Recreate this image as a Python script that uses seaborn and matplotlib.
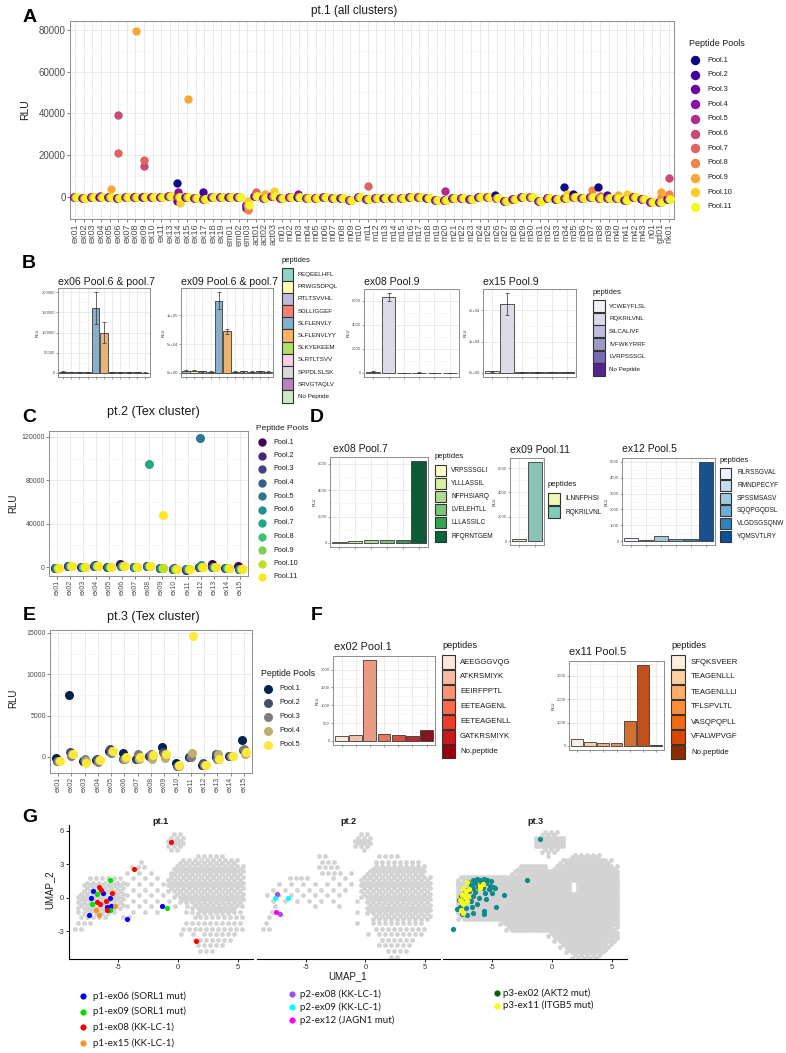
import numpy as np
import pandas as pd
import matplotlib
matplotlib.use("Agg")
import matplotlib.pyplot as plt
import seaborn as sns
from matplotlib.patches import Rectangle
from matplotlib.ticker import MultipleLocator, FuncFormatter

# ------------------------------------------------------------
# data -- panel A : pt.1 (all clusters)
# ------------------------------------------------------------
a_samples = (["ex%02d" % i for i in list(range(1, 12)) + list(range(13, 20))]
             + ["em01", "em02", "em03", "act01", "act02", "act03"]
             + ["m%02d" % i for i in range(1, 44)] + ["n01", "gd01", "nk01"])
a_base = [-300, -800, 0, -300, 0, -700, -300, -300, 0, -300, 0, 300, 0, -300, -800, -1200, -300, -300,
          0, 0, -4000,
          500, -500, 500,
          -500, -300, 0, -800, -500, -300, -500, -500, -1500, -300,
          -1000, -500, -700, -700, -700, -300, -300, -800, -1500, -1500,
          -500, -800, -1000, -300, -300, -500, -1800, -1000, -300, 0,
          -2000, -500, -1000, -500, -300, -500, -300, -500, -800, -800,
          -1500, -300, -1300,
          -2500, -2500, -1300]
a_peaks = [("ex05", 9, 3500), ("ex06", 6, 39000), ("ex06", 7, 21000), ("ex08", 9, 79500),
           ("ex09", 7, 17500), ("ex09", 6, 14500), ("ex14", 1, 6500), ("ex14", 4, 2500),
           ("ex14", 3, -2000), ("ex14", 10, -3000), ("ex15", 9, 47000), ("ex17", 2, 2500),
           ("ex04", 3, 500), ("em03", 2, -5500), ("em03", 7, -6000), ("em03", 8, -6500),
           ("em03", 10, -2000), ("act01", 7, 2500), ("act02", 9, 1500), ("act03", 8, 500),
           ("act03", 10, 3000), ("m03", 4, 1500), ("m11", 7, 5000), ("m20", 5, 2800),
           ("m26", 1, 1000), ("m34", 1, 4500), ("m34", 10, 1200), ("m35", 1, 1500),
           ("m37", 8, 3200), ("m38", 1, 4800), ("m38", 7, 500), ("m39", 2, 1000),
           ("m40", 9, 800), ("m41", 10, 1500), ("gd01", 9, 2200), ("gd01", 8, -200),
           ("nk01", 6, 9000), ("nk01", 8, 1500)]

# panel C : pt.2 (Tex cluster)
c_samples = ["ex%02d" % i for i in range(1, 16)]
c_base = [-500, 500, -300, 800, 0, 500, 200, 800, -1000, -1500, -2000, 0, 300, -800, -1500]
c_peaks = [("ex08", 7, 95000), ("ex09", 11, 48000), ("ex12", 5, 119500), ("ex06", 1, 2500),
           ("ex13", 1, 3000), ("ex15", 1, 800), ("ex04", 2, 2000), ("ex12", 6, 2000),
           ("ex11", 1, -2500), ("ex10", 3, -1000)]

# panel E : pt.3 (Tex cluster)
e_samples = ["ex%02d" % i for i in range(1, 16)]
e_base = [-500, 300, -500, -400, 700, -200, -300, 100, 300, -1100, 0, -1000, 0, 50, 600]
e_peaks = [("ex01", 1, -100), ("ex02", 1, 7500), ("ex02", 2, 600), ("ex02", 3, 100),
           ("ex03", 3, -300), ("ex03", 5, -700), ("ex04", 2, -200), ("ex04", 3, -600),
           ("ex05", 2, 1000), ("ex05", 3, 500), ("ex06", 1, 500), ("ex06", 5, 0),
           ("ex07", 3, 300), ("ex07", 5, 0), ("ex08", 3, 300), ("ex08", 4, -300),
           ("ex08", 5, 200), ("ex09", 1, 1200), ("ex09", 2, 600), ("ex09", 4, -100),
           ("ex10", 1, -800), ("ex10", 5, -1000), ("ex11", 5, 14600), ("ex11", 4, 500),
           ("ex12", 2, -800), ("ex13", 2, 300), ("ex13", 4, 300), ("ex13", 3, -300),
           ("ex13", 5, -200), ("ex15", 1, 2000), ("ex15", 2, 800), ("ex15", 3, 900),
           ("ex15", 4, 400)]

# panel B : bar charts
b1_peps = ["PEQEELHFL", "PRWGSDPQL", "RTLTSVVHL", "SDLLIGGEF", "SLFLENVLY", "SLFLENVLYY",
           "SLKYEKEEM", "SLRTLTSVV", "SPPDLSLSK", "SRVGTAQLV", "No Peptide"]
b1_cols = ["#8dd3c7", "#ffffb3", "#bebada", "#fb8072", "#80b1d3", "#fdb462",
           "#b3de69", "#fccde5", "#d9d9d9", "#bc80bd", "#ccebc5"]
b_ex06 = [3000, 2000, 2500, 1500, 160000, 100000, 1500, 1500, 1500, 2000, 1000]
b_ex06_err = [800, 600, 700, 500, 40000, 25000, 500, 500, 500, 600, 400]
b_ex09 = [4000, 3500, 3000, 2500, 125000, 72000, 2000, 3000, 2500, 3000, 2500]
b_ex09_err = [1000, 800, 800, 700, 15000, 4500, 600, 800, 700, 800, 700]
b2_peps = ["YCWEYFLSL", "RQKRILVNL", "SILCALIVF", "IVFWKYRRF", "LVRPSSSGL", "No Peptide"]
b2_cols = ["#f2f0f7", "#dadaeb", "#bcbddc", "#9e9ac8", "#756bb1", "#54278f"]
b_ex08 = [120, 6300, 30, 40, 30, 30]
b_ex08_err = [40, 350, 10, 10, 10, 10]
b_ex15 = [500, 22000, 200, 200, 250, 300]
b_ex15_err = [150, 3500, 60, 60, 80, 80]

# panel D
d1_peps = ["VRPSSSGLI", "YLLLASSIL", "NFPHSIARQ", "LVELEHTLL", "LLLASSILC", "RFQRNTGEM"]
d1_cols = ["#ffffcc", "#d9f0a3", "#addd8e", "#78c679", "#31a354", "#006837"]
d1_vals = [80, 180, 220, 220, 230, 6200]
d2_peps = ["ILNNFPHSI", "RQKRILVNL"]
d2_cols = ["#edf8b1", "#7fcdbb"]
d2_vals = [150, 6500]
d3_peps = ["RLRSSGVAL", "RMNDPECYF", "SPSSMSASV", "SQQPGQDSL", "VLGDSGSQNW", "YQMSVTLRY"]
d3_cols = ["#eff3ff", "#c6dbef", "#9ecae1", "#6baed6", "#3182bd", "#08519c"]
d3_vals = [180, 70, 300, 130, 130, 5000]

# panel F
f1_peps = ["AEEGGGVQG", "ATKRSMIYK", "EEIRFPPTL", "EETEAGENL", "EETEAGENLL", "GATKRSMIYK", "No.peptide"]
f1_cols = ["#fee5d9", "#fcbba1", "#fc9272", "#fb6a4a", "#ef3b2c", "#cb181d", "#99000d"]
f1_vals = [130, 170, 2270, 190, 170, 130, 320]
f2_peps = ["SFQKSVEER", "TEAGENLLL", "TEAGENLLLI", "TFLSPVLTL", "VASQPQPLL", "VFALWPVGF", "No.peptide"]
f2_cols = ["#feedde", "#fdd0a2", "#fdae6b", "#fd8d3c", "#f16913", "#d94801", "#8c2d04"]
f2_vals = [280, 180, 125, 140, 1075, 3450, 55]

# panel G : UMAP clouds read as row masks (0.5-unit cells, rows from y=6 downwards)
# '#' dense, '%' medium, '+' sparse, '-' very sparse
pt1_cloud = [
    [(17, 18, "+")], [(16, 18, "%")], [(16, 18, "%")], [(16, 17, "+")],
    [(21, 25, "+")],
    [(11, 11, "+"), (18, 27, "%")],
    [(10, 12, "+"), (17, 28, "%")],
    [(9, 13, "-"), (16, 16, "+"), (17, 28, "%")],
    [(3, 8, "+"), (9, 14, "-"), (16, 28, "%")],
    [(2, 8, "%"), (9, 15, "-"), (16, 28, "%")],
    [(2, 8, "%"), (9, 15, "-"), (16, 28, "%")],
    [(1, 8, "%"), (9, 15, "-"), (17, 28, "%")],
    [(1, 8, "%"), (9, 16, "-"), (18, 28, "%")],
    [(1, 8, "%"), (9, 19, "-"), (20, 27, "%"), (28, 28, "+")],
    [(1, 1, "+"), (2, 6, "%"), (7, 7, "+"), (10, 14, "-"), (19, 20, "+"), (21, 26, "%"), (27, 28, "+")],
    [(1, 5, "+"), (8, 9, "+"), (20, 28, "+")],
    [(1, 3, "+"), (19, 28, "+")],
    [(0, 1, "+"), (18, 28, "+")],
    [(18, 21, "-"), (22, 27, "+")],
    [(20, 26, "+")], [(21, 25, "+")], [(21, 23, "+")], [],
]
pt2_cloud = [
    [(17, 18, "+")], [(16, 18, "%")], [(16, 18, "%")], [(17, 17, "+")],
    [(10, 11, "+"), (20, 23, "+")],
    [(10, 12, "+"), (19, 26, "+")],
    [(10, 13, "+"), (19, 27, "%")],
    [(10, 13, "+"), (14, 15, "-"), (18, 27, "%")],
    [(5, 8, "+"), (12, 14, "-"), (17, 28, "%")],
    [(3, 15, "-"), (17, 28, "%")],
    [(1, 15, "-"), (17, 28, "%")],
    [(1, 14, "-"), (17, 28, "%")],
    [(1, 12, "-"), (15, 16, "-"), (18, 28, "%")],
    [(2, 2, "+"), (8, 9, "-"), (13, 14, "-"), (18, 28, "%")],
    [(2, 2, "+"), (15, 16, "-"), (18, 28, "%")],
    [(1, 1, "+"), (19, 28, "%")],
    [(1, 1, "+"), (16, 17, "-"), (19, 27, "+")],
    [(0, 1, "+"), (19, 27, "+")],
    [(17, 18, "-"), (20, 27, "+")],
    [(20, 25, "+")], [(20, 25, "+")], [(21, 24, "+")], [(22, 23, "+")],
]
pt3_cloud = [
    [(16, 18, "%")], [(15, 19, "#")], [(15, 19, "#")], [(16, 18, "%")],
    [(17, 17, "+"), (21, 25, "%")],
    [(19, 19, "%"), (20, 26, "#"), (27, 27, "%")],
    [(12, 12, "%"), (13, 16, "#"), (18, 18, "%"), (19, 27, "#"), (28, 28, "%")],
    [(11, 11, "%"), (12, 16, "#"), (17, 28, "#")],
    [(2, 2, "%"), (3, 8, "#"), (9, 28, "#")],
    [(2, 20, "#"), (22, 28, "#")],
    [(2, 20, "#"), (22, 28, "#")],
    [(2, 28, "#")], [(2, 28, "#")], [(2, 28, "#")], [(2, 28, "#")],
    [(2, 2, "%"), (3, 28, "#")],
    [(9, 9, "%"), (10, 28, "#")],
    [(10, 10, "%"), (11, 27, "#"), (28, 28, "%")],
    [(17, 17, "%"), (18, 28, "#")],
    [(18, 18, "%"), (19, 27, "#"), (28, 28, "%")],
    [(19, 19, "%"), (20, 26, "#"), (27, 27, "%")],
    [(20, 20, "%"), (21, 25, "#"), (26, 26, "%")],
    [(21, 25, "%")],
]

p1_ex06 = [(-7.1, 0.65), (-7.3, 0.0), (-7.4, -1.5), (-6.3, 0.4), (-5.7, 0.0), (-5.9, -0.8),
           (-5.6, -0.7), (-4.3, -1.85), (-1.35, -0.75)]
p1_ex09 = [(-5.7, 1.6), (-6.8, 0.35), (-7.2, -0.55), (-5.7, -1.1), (-0.9, -0.9)]
p1_ex08 = [(-6.6, 0.95), (-6.4, 0.75), (-5.5, 0.4), (-6.75, -0.4), (-6.55, -0.55), (-6.0, -0.25),
           (-5.95, -1.1), (-3.65, 2.55), (-0.6, 5.0), (1.5, -3.9)]
p1_ex15 = [(-6.85, -1.1), (-6.6, -1.55), (-5.3, -0.7)]
p2_ex08 = [(-7.4, 0.32), (-7.2, -1.45)]
p2_ex09 = [(-7.6, 0.0), (-6.5, 0.03)]
p2_ex12 = [(-7.5, -1.25)]
p3_ex02 = [(-7.0, 1.4), (-6.6, 1.6), (-6.3, 1.65), (-6.0, 1.6), (-5.7, 1.65), (-5.4, 1.6), (-5.1, 1.5),
           (-6.8, 1.2), (-6.4, 1.3), (-5.9, 1.25), (-5.5, 1.3), (-5.2, 1.1), (-4.9, 1.0), (-6.6, 0.9),
           (-6.2, 0.95), (-5.8, 0.85), (-5.3, 0.8), (-4.8, 0.9), (-7.3, 0.7), (-6.9, 0.6), (-6.4, 0.5),
           (-5.6, 0.45), (-5.0, 0.4), (-4.0, 0.25), (-7.6, 0.2), (-7.1, 0.1), (-6.6, 0.15), (-6.1, 0.0),
           (-5.5, -0.1), (-7.8, -0.2), (-7.4, -0.4), (-6.8, -0.3), (-6.3, -0.5), (-4.7, -0.8),
           (-7.7, -0.8), (-7.2, -0.9), (-6.7, -0.8), (-5.7, -1.2), (-5.7, -1.4), (-7.5, -1.4),
           (-7.1, -1.5), (-6.6, -1.35), (-2.1, 1.6), (-1.0, 5.3), (-8.3, -2.8), (-7.9, -1.0)]
p3_ex11 = [(-7.1, 1.4), (-7.4, 0.9), (-7.2, 0.65), (-7.5, 0.3), (-7.2, 0.05), (-7.7, -0.2),
           (-7.5, -0.4), (-7.4, -0.5), (-7.6, -1.1), (-7.4, -1.35), (-6.0, 1.1), (-6.0, 0.9),
           (-5.8, 1.25), (-6.9, 0.8), (-7.0, 0.2), (-7.1, -0.25)]

g_legend1 = ["p1-ex06 (SORL1 mut)", "p1-ex09 (SORL1 mut)", "p1-ex08 (KK-LC-1)", "p1-ex15 (KK-LC-1)"]
g_colors1 = ["#0000ff", "#00e000", "#ff0000", "#f7941d"]
g_legend2 = ["p2-ex08 (KK-LC-1)", "p2-ex09 (KK-LC-1)", "p2-ex12 (JAGN1 mut)"]
g_colors2 = ["#9b4ff0", "#00ffff", "#ff00ff"]
g_legend3 = ["p3-ex02 (AKT2 mut)", "p3-ex11 (ITGB5 mut)"]
g_colors3 = ["#006400", "#ffff00"]

# ------------------------------------------------------------
# figure setup
# ------------------------------------------------------------
W, H = 786, 1053
sns.set_theme(style="white")
plt.rcParams["font.family"] = ["Liberation Sans", "DejaVu Sans"]
plt.rcParams["axes.unicode_minus"] = False

fig = plt.figure(figsize=(W / 100, H / 100), dpi=100)
fig.patch.set_facecolor("white")

ov = fig.add_axes([0, 0, 1, 1], zorder=20)
ov.set_xlim(0, W)
ov.set_ylim(H, 0)
ov.axis("off")

TXT = "#1a1a1a"
GREY = "#4d4d4d"


def box(l, t, r, b):
    return fig.add_axes([l / W, 1 - b / H, (r - l) / W, (b - t) / H])


def gg_style(ax, fs, minor_y=None):
    ax.set_facecolor("white")
    for s in ax.spines.values():
        s.set_visible(True)
        s.set_color("#8c8c8c")
        s.set_linewidth(0.7)
    ax.grid(True, which="major", color="#e3e3e3", linewidth=0.5)
    if minor_y:
        ax.yaxis.set_minor_locator(MultipleLocator(minor_y))
        ax.grid(True, which="minor", axis="y", color="#f1f1f1", linewidth=0.4)
    ax.set_axisbelow(True)
    ax.tick_params(axis="both", which="major", bottom=True, left=True, length=2, width=0.5,
                   color=GREY, labelsize=fs, labelcolor=GREY, pad=1)
    ax.tick_params(which="minor", length=0)
    ax.set_xlabel("")
    ax.set_ylabel("")


def pool_strip(ax, samples, base, peaks, n_pools, cmap_name, size, squeeze):
    fixed = {(s, p): v for s, p, v in peaks}
    rows = []
    for s, b in zip(samples, base):
        for p in range(1, n_pools + 1):
            rows.append((s, "Pool.%d" % p, fixed.get((s, p), b)))
    df = pd.DataFrame(rows, columns=["sample", "pool", "RLU"])
    cmap = plt.get_cmap(cmap_name)
    pal = [cmap(v) for v in np.linspace(0, 1, n_pools)]
    sns.stripplot(data=df, x="sample", y="RLU", hue="pool", order=samples,
                  hue_order=["Pool.%d" % p for p in range(1, n_pools + 1)],
                  palette=pal, dodge=True, jitter=False, size=size, linewidth=0,
                  legend=False, ax=ax)
    # narrow the dodge so the pools of one sample overlap like the original
    for coll in ax.collections:
        off = np.asarray(coll.get_offsets()).copy()
        if len(off):
            cx = np.round(off[:, 0])
            off[:, 0] = cx + (off[:, 0] - cx) * squeeze
            coll.set_offsets(off)
    ax.set_xlim(-0.6, len(samples) - 0.4)
    return pal


def point_legend(xt, yt, xm, xtext, y0, dy, cols, s, fs, tfs):
    ov.text(xt, yt, "Peptide Pools", fontsize=tfs, color=TXT, va="center")
    for k, c in enumerate(cols):
        ov.scatter([xm], [y0 + k * dy], s=s, color=c, linewidths=0)
        ov.text(xtext, y0 + k * dy, "Pool.%d" % (k + 1), fontsize=fs, color=TXT, va="center")


def square_legend(x, yt, labels, cols, y0, dy, w, h, fs, tfs, xtext):
    ov.text(x, yt, "peptides", fontsize=tfs, color=TXT, va="center")
    for k, (lab, c) in enumerate(zip(labels, cols)):
        yc = y0 + k * dy
        ov.add_patch(Rectangle((x, yc - h / 2), w, h, facecolor=c, edgecolor="#333333", lw=0.8))
        ov.text(xtext, yc, lab, fontsize=fs, color=TXT, va="center")


def bar_panel(ax, peps, vals, cols, errs=None, ticks=None, sci=False):
    df = pd.DataFrame({"peptide": peps, "RLU": vals})
    sns.barplot(data=df, x="peptide", y="RLU", hue="peptide", order=peps, hue_order=peps,
                palette=cols, dodge=False, width=0.9, edgecolor="#3a3a3a", linewidth=0.6,
                errorbar=None, legend=False, ax=ax)
    top = max(vals)
    if errs is not None:
        ax.errorbar(range(len(peps)), vals, yerr=errs, fmt="none", ecolor="#333333",
                    elinewidth=0.5, capsize=1.5, capthick=0.5)
        top = max(v + e for v, e in zip(vals, errs))
    gg_style(ax, 3, minor_y=(ticks[1] - ticks[0]) / 2)
    ax.set_ylim(-0.05 * top, 1.05 * top)
    ax.set_xlim(-0.6, len(peps) - 0.4)
    ax.set_yticks(ticks)
    if sci:
        ax.yaxis.set_major_formatter(FuncFormatter(lambda v, _: "%.0e" % v))
    else:
        ax.yaxis.set_major_formatter(FuncFormatter(lambda v, _: "%d" % v))
    ax.set_xticks(range(len(peps)))
    ax.set_xticklabels([""] * len(peps))
    ax.tick_params(length=1.2, width=0.4)
    ax.set_ylabel("RLU", fontsize=3, color=TXT, labelpad=1)


def cloud(spans):
    xs, ys = [], []
    for j, row in enumerate(spans):
        yc = 6.0 - 0.5 * j - 0.25
        for c0, c1, d in row:
            for i in range(c0, c1 + 1):
                xc = -9.0 + 0.5 * i + 0.25
                if d == "#":
                    offs = [(-0.125, -0.125), (0.125, -0.125), (-0.125, 0.125), (0.125, 0.125), (0.0, 0.0)]
                elif d == "%":
                    offs = [(-0.125, -0.125), (0.125, 0.125)]
                elif d == "+":
                    offs = [(0.12 if j % 2 else -0.12, 0.0)]
                else:
                    offs = [(0.0, 0.0)] if (i + j) % 2 == 0 else []
                for dx, dy in offs:
                    xs.append(xc + dx)
                    ys.append(yc + dy)
    return np.array(xs), np.array(ys)


def umap_panel(ax, spans, groups, first):
    gx, gy = cloud(spans)
    sns.scatterplot(x=gx, y=gy, color="#d3d3d3", s=12, linewidth=0, ax=ax)
    for pts, col in groups:
        arr = np.array(pts)
        sns.scatterplot(x=arr[:, 0], y=arr[:, 1], color=col, s=14, linewidth=0, ax=ax)
    ax.set_facecolor("white")
    ax.set_xlim(-9.1, 6.25)
    ax.set_ylim(-5.47, 6.53)
    for side in ["top", "right"]:
        ax.spines[side].set_visible(False)
    ax.spines["left"].set_visible(first)
    for side in ["left", "bottom"]:
        ax.spines[side].set_color("black")
        ax.spines[side].set_linewidth(0.8)
    ax.set_xticks([-5, 0, 5])
    if first:
        ax.set_yticks([-3, 0, 3, 6])
    else:
        ax.set_yticks([])
    ax.tick_params(bottom=True, left=first, length=2.5, width=0.6, color="black",
                   labelsize=5.5, labelcolor="#333333", pad=1)
    ax.grid(False)
    ax.set_xlabel("")
    ax.set_ylabel("")


# ------------------------------------------------------------
# A
# ------------------------------------------------------------
axA = box(70, 21, 674, 219)
pal_a = pool_strip(axA, a_samples, a_base, a_peaks, 11, "plasma", 6.0, 0.5)
gg_style(axA, 6.5, minor_y=10000)
axA.set_ylim(-10650, 84200)
axA.set_yticks([0, 20000, 40000, 60000, 80000])
axA.tick_params(axis="y", labelsize=7)
axA.tick_params(axis="x", labelrotation=90)
ov.text(354, 11, "pt.1 (all clusters)", fontsize=8.5, ha="center", va="center", color=TXT)
ov.text(25, 110, "RLU", fontsize=7.5, rotation=90, ha="center", va="center", color=TXT)
point_legend(689, 43, 695, 707, 60, 14.7, pal_a, 46, 5.3, 6.5)

# ------------------------------------------------------------
# B
# ------------------------------------------------------------
axB1 = box(58, 288, 150, 377)
bar_panel(axB1, b1_peps, b_ex06, b1_cols, b_ex06_err, [0, 50000, 100000, 150000, 200000])
axB2 = box(181, 288, 273, 377)
bar_panel(axB2, b1_peps, b_ex09, b1_cols, b_ex09_err, [0, 50000, 100000], sci=True)
axB3 = box(364, 289, 459, 377)
bar_panel(axB3, b2_peps, b_ex08, b2_cols, b_ex08_err, [0, 2000, 4000, 6000])
axB4 = box(483, 289, 576, 377)
bar_panel(axB4, b2_peps, b_ex15, b2_cols, b_ex15_err, [0, 10000, 20000], sci=True)
for x, t in [(58, "ex06 Pool.6 & pool.7"), (181, "ex09 Pool.6 & pool.7"),
             (364, "ex08 Pool.9"), (483, "ex15 Pool.9")]:
    ov.text(x, 282, t, fontsize=7.6, va="center", color=TXT)
square_legend(282, 261, b1_peps, b1_cols, 274.5, 12.2, 11, 12.2, 4.5, 5.4, 298)
square_legend(593, 293, b2_peps, b2_cols, 306, 12.7, 12, 12.2, 4.5, 5.4, 609)

# ------------------------------------------------------------
# C
# ------------------------------------------------------------
axC = box(49, 431, 248, 576)
pal_c = pool_strip(axC, c_samples, c_base, c_peaks, 11, "viridis", 6.5, 0.4)
gg_style(axC, 5, minor_y=20000)
axC.set_ylim(-8300, 125500)
axC.set_yticks([0, 40000, 80000, 120000])
axC.tick_params(axis="x", labelrotation=90)
ov.text(153, 412, "pt.2 (Tex cluster)", fontsize=9, ha="center", va="center", color=TXT)
ov.text(13, 503, "RLU", fontsize=7, rotation=90, ha="center", va="center", color=TXT)
point_legend(256, 428, 262, 273, 442, 13.5, pal_c, 36, 5.2, 6)

# ------------------------------------------------------------
# D
# ------------------------------------------------------------
axD1 = box(330, 457, 428, 547)
bar_panel(axD1, d1_peps, d1_vals, d1_cols, ticks=[0, 2000, 4000, 6000])
axD2 = box(510, 458, 544, 545)
bar_panel(axD2, d2_peps, d2_vals, d2_cols, ticks=[0, 2000, 4000, 6000])
axD3 = box(622, 458, 715, 545)
bar_panel(axD3, d3_peps, d3_vals, d3_cols, ticks=[0, 1000, 2000, 3000, 4000, 5000])
for x, y, t in [(333, 449, "ex08 Pool.7"), (510, 450, "ex09 Pool.11"), (622, 449, "ex12 Pool.5")]:
    ov.text(x, y, t, fontsize=7.5, va="center", color=TXT)
square_legend(435, 457, d1_peps, d1_cols, 470, 13.2, 11, 11, 4.7, 5.5, 451)
square_legend(548, 485, d2_peps, d2_cols, 499, 13.2, 12, 12, 4.7, 5.5, 565)
square_legend(720, 460, d3_peps, d3_cols, 473, 12.6, 11, 11, 4.7, 5.5, 737)

# ------------------------------------------------------------
# E
# ------------------------------------------------------------
axE = box(50, 630, 252, 773)
pal_e = pool_strip(axE, e_samples, e_base, e_peaks, 5, "cividis", 6.5, 0.45)
gg_style(axE, 5, minor_y=2500)
axE.set_ylim(-1950, 15360)
axE.set_yticks([0, 5000, 10000, 15000])
axE.tick_params(axis="x", labelrotation=90)
ov.text(153, 617, "pt.3 (Tex cluster)", fontsize=9, ha="center", va="center", color=TXT)
ov.text(13, 698, "RLU", fontsize=7, rotation=90, ha="center", va="center", color=TXT)
point_legend(261, 674, 268, 279, 689, 14, pal_e, 42, 5.3, 6.3)

# ------------------------------------------------------------
# F
# ------------------------------------------------------------
axF1 = box(333, 656, 435, 745)
bar_panel(axF1, f1_peps, f1_vals, f1_cols, ticks=[0, 500, 1000, 1500, 2000])
axF2 = box(569, 661, 664, 750)
bar_panel(axF2, f2_peps, f2_vals, f2_cols, ticks=[0, 1000, 2000, 3000])
ov.text(334, 647, "ex02 Pool.1", fontsize=7.8, va="center", color=TXT)
ov.text(569, 652, "ex11 Pool.5", fontsize=7.8, va="center", color=TXT)
square_legend(442, 646, f1_peps, f1_cols, 662, 14.9, 13, 14, 5.6, 6.7, 460)
square_legend(671, 646, f2_peps, f2_cols, 662, 15, 14, 14, 5.6, 6.7, 691)

# ------------------------------------------------------------
# G : UMAP
# ------------------------------------------------------------
axG1 = box(69, 825, 253, 959)
umap_panel(axG1, pt1_cloud, [(p1_ex06, "#0000ff"), (p1_ex09, "#00e000"),
                             (p1_ex08, "#ff0000"), (p1_ex15, "#f7941d")], True)
axG2 = box(257, 825, 440, 959)
umap_panel(axG2, pt2_cloud, [(p2_ex08, "#9b4ff0"), (p2_ex09, "#00ffff"),
                             (p2_ex12, "#ff00ff")], False)
axG3 = box(443, 825, 627, 959)
umap_panel(axG3, pt3_cloud, [(p3_ex02, "#0e8a88"), (p3_ex11, "#ffff00")], False)

for x, t in [(161, "pt.1"), (348, "pt.2"), (535, "pt.3")]:
    ov.text(x, 821, t, fontsize=6.5, fontweight="bold", ha="center", va="center", color=TXT)
ov.text(49, 890, "UMAP_2", fontsize=7, rotation=90, ha="center", va="center", color=TXT)
ov.text(348, 976, "UMAP_1", fontsize=7, ha="center", va="center", color=TXT)

for labels, cols, xm, xt, y0, dy in [(g_legend1, g_colors1, 83, 93, 996, 15.7),
                                     (g_legend2, g_colors2, 292, 300, 994, 13),
                                     (g_legend3, g_colors3, 497, 503, 993, 12.5)]:
    for k, (lab, c) in enumerate(zip(labels, cols)):
        ov.scatter([xm], [y0 + k * dy], s=20, color=c, linewidths=0)
        ov.text(xt, y0 + k * dy, lab, fontsize=7, family=["Lato", "DejaVu Sans"],
                va="center", color=TXT)

# panel letters
for lab, x, y in [("A", 30, 17), ("B", 29, 263), ("C", 29, 417), ("D", 317, 417),
                  ("E", 29, 616), ("F", 317, 616), ("G", 30, 817)]:
    ov.text(x, y, lab, fontsize=14, fontweight="bold", ha="center", va="center", color="black")

fig.savefig("out.png", dpi=100)
